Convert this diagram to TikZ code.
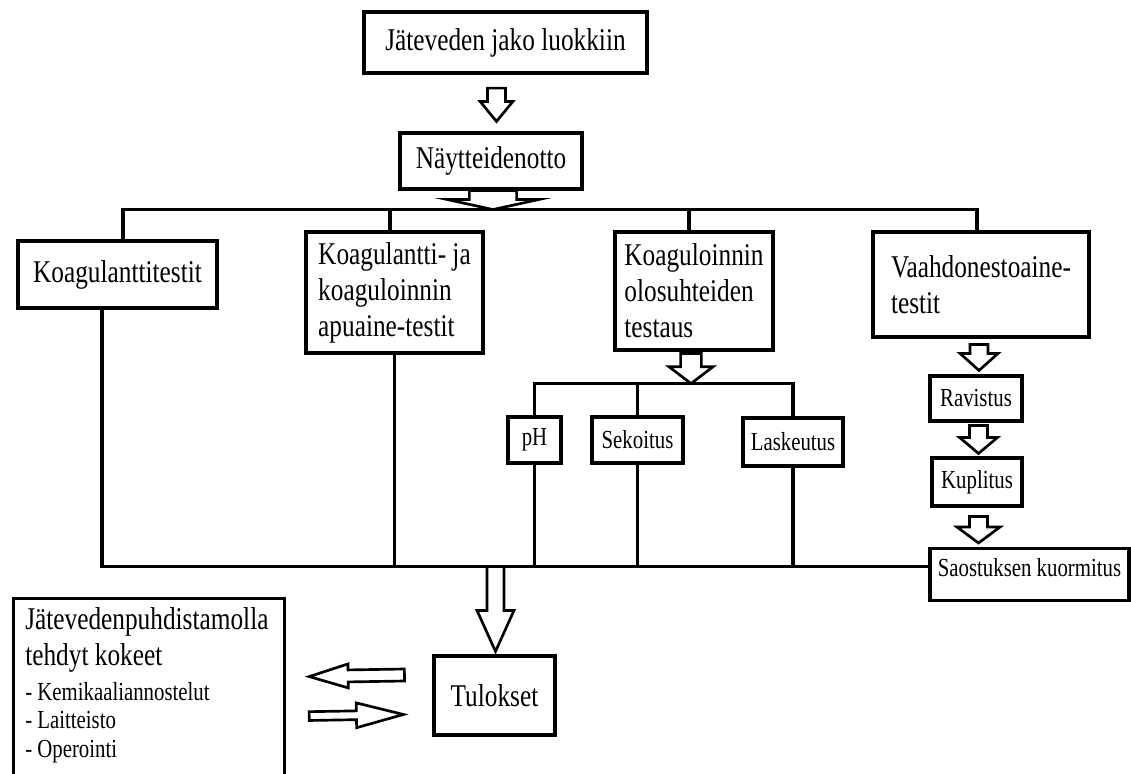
\documentclass[tikz,border=0pt]{standalone}
\usepackage{fontspec}
\setmainfont{Liberation Serif}[FakeStretch=0.8]
\usetikzlibrary{calc}
\newcommand{\boxfont}{\fontsize{22.5}{25.6}\selectfont}
\newcommand{\subfont}{\fontsize{18.5}{20.3}\selectfont}
\newcommand{\listfont}{\subfont\lineskiplimit=-50pt\relax}
% hollow block arrow: start, end, shaft half width, head half width, head length
\newcommand{\hollowarrow}[5]{%
  \coordinate (hb) at ($(#2)!#5!(#1)$);
  \draw[hollow] ($(#1)!#3!90:(#2)$) -- ($(hb)!#3!90:(#2)$) -- ($(hb)!#4!90:(#2)$) -- (#2)
    -- ($(hb)!#4!-90:(#2)$) -- ($(hb)!#3!-90:(#2)$) -- ($(#1)!#3!-90:(#2)$) -- cycle;}
\tikzset{
  box/.style={draw,line width=2.2pt,align=left,font=\boxfont,inner sep=3pt},
  subbox/.style={box,font=\subfont},
  link/.style={line width=2.2pt},
  hollow/.style={draw,fill=white,line width=1.9pt,line join=miter}
}
\begin{document}
\begin{tikzpicture}[x=0.025cm,y=-0.025cm]
  \useasboundingbox (0,0) rectangle (1131,774);
  % top of the chart
  \node[box,line width=3pt,minimum width=7.075cm,minimum height=1.525cm] (luokat) at (505.5,42.5) {Jäteveden jako luokkiin};
  \node[box,minimum width=4.55cm,minimum height=1.4cm] (naytteet) at (491,161) {Näytteidenotto};
  % test groups
  \node[box,minimum width=4.975cm,minimum height=1.675cm] (koag) at (117.5,274.5) {Koagulanttitestit};
  \node[box,minimum width=4.425cm,minimum height=3.025cm] (apuaine) at (394.5,292.5) {Koagulantti- ja\\koaguloinnin\\apuaine-testit};
  \node[box,minimum width=3.95cm,minimum height=2.95cm] (olosuhteet) at (694,291) {Koaguloinnin\\olosuhteiden\\testaus};
  \node[box,minimum width=5.4cm,minimum height=2.625cm] (vaahto) at (981,284.5) {Vaahdonestoaine-\\testit};
  % conditions
  \node[subbox,minimum width=1.325cm,minimum height=1.15cm] (ph) at (534.5,440) {pH};
  \node[subbox,minimum width=2.275cm,minimum height=1.15cm] (sekoitus) at (637.5,440) {Sekoitus};
  \node[subbox,minimum width=2.5cm,minimum height=1.2cm] (laskeutus) at (793,442) {Laskeutus};
  % antifoam chain
  \node[subbox,minimum width=2.3cm,minimum height=1.125cm] (ravistus) at (976,398.5) {Ravistus};
  \node[subbox,minimum width=2.25cm,minimum height=1.2cm] (kuplitus) at (977,482) {Kuplitus};
  \node[subbox,minimum width=4.975cm,inner ysep=0pt,text height=0.7cm,text depth=0.6cm,anchor=north] (saostus) at (1029.5,547) {Saostuksen kuormitus};
  % results and plant tests
  \node[box,minimum width=3.025cm,minimum height=1.975cm] (tulokset) at (494.5,695.5) {Tulokset};
  \node[box,minimum width=6.775cm,minimum height=5cm,anchor=north west] (laitos) at (12,597) {};
  \node[anchor=north west,align=left,inner sep=0pt,font=\listfont] (laitosteksti) at ([shift={(13,10)}]laitos.north west)
    {{\boxfont Jätevedenpuhdistamolla}\\[5.5pt]{\boxfont tehdyt kokeet}\\[4.5pt]- Kemikaaliannostelut\\- Laitteisto\\- Operointi};
  % bus lines
  \coordinate (ylaväylä) at ([shift={(2,19)}]naytteet.south);
  \coordinate (keskiväylä) at ([shift={(-3,32)}]olosuhteet.south);
  \coordinate (alaväylä) at ([shift={(1,-88)}]tulokset.north);
  \draw[link] ([shift={(5.5,0)}]koag.north) |- ([shift={(-4,0)}]vaahto.north |- ylaväylä) -- ([shift={(-4,0)}]vaahto.north);
  \draw[link] ([shift={(-4.5,0)}]apuaine.north) -- ([shift={(-4.5,0)}]apuaine.north |- ylaväylä);
  \draw[link] ([shift={(-5,0)}]olosuhteet.north) -- ([shift={(-5,0)}]olosuhteet.north |- ylaväylä);
  \draw[link] (ph.north) |- (laskeutus.north |- keskiväylä) -- (laskeutus.north);
  \draw[link] (sekoitus.north) -- (sekoitus.north |- keskiväylä);
  \draw[link] ([shift={(-15.5,0)}]koag.south) |- (saostus.west |- alaväylä);
  \draw[link] (apuaine.south) -- (apuaine.south |- alaväylä);
  \draw[link] (ph.south) -- (ph.south |- alaväylä);
  \draw[link] (sekoitus.south) -- (sekoitus.south |- alaväylä);
  \draw[link] (laskeutus.south) -- (laskeutus.south |- alaväylä);
  % block arrows
  \coordinate (n1a) at ([shift={(-9,13)}]luokat.south);
  \coordinate (n1b) at ([shift={(5.5,-10)}]naytteet.north);
  \hollowarrow{n1a}{n1b}{0.225cm}{0.41cm}{0.5cm}
  \coordinate (n2a) at ([shift={(2,0)}]naytteet.south);
  \hollowarrow{n2a}{ylaväylä}{0.59cm}{1.14cm}{0.25cm}
  \coordinate (n3a) at ([shift={(-3,2)}]olosuhteet.south);
  \hollowarrow{n3a}{keskiväylä}{0.26cm}{0.55cm}{0.42cm}
  \coordinate (v1a) at ([shift={(-2,6)}]vaahto.south);
  \coordinate (v1b) at ([shift={(3,-4)}]ravistus.north);
  \hollowarrow{v1a}{v1b}{0.225cm}{0.475cm}{0.425cm}
  \coordinate (v2a) at ([shift={(2.5,3)}]ravistus.south);
  \coordinate (v2b) at ([shift={(1.5,-3)}]kuplitus.north);
  \hollowarrow{v2a}{v2b}{0.225cm}{0.475cm}{0.4cm}
  \coordinate (v3a) at ([shift={(1.5,9)}]kuplitus.south);
  \coordinate (v3b) at ([shift={(-51,-4)}]saostus.north);
  \hollowarrow{v3a}{v3b}{0.225cm}{0.54cm}{0.4cm}
  \coordinate (t1b) at ([shift={(1,-3)}]tulokset.north);
  \hollowarrow{alaväylä}{t1b}{0.2125cm}{0.4625cm}{1.025cm}
  \coordinate (l1a) at ([shift={(-28,-20.5)}]tulokset.west);
  \coordinate (l1b) at ([shift={(23,-22)}]laitos.east);
  \hollowarrow{l1a}{l1b}{0.15cm}{0.3cm}{0.975cm}
  \coordinate (l2a) at ([shift={(23,17.5)}]laitos.east);
  \coordinate (l2b) at ([shift={(-29,19)}]tulokset.west);
  \hollowarrow{l2a}{l2b}{0.11cm}{0.31cm}{1.175cm}
\end{tikzpicture}
\end{document}
